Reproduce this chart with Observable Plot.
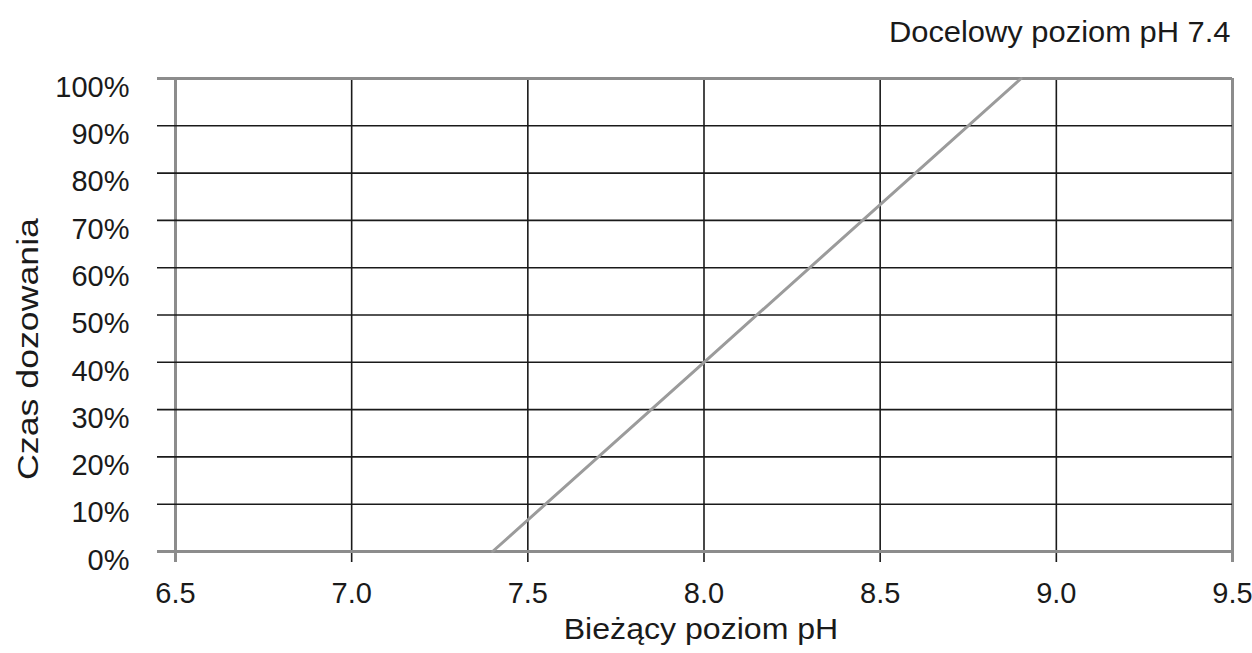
<!DOCTYPE html>
<html>
<head>
<meta charset="utf-8">
<script src="https://cdn.jsdelivr.net/npm/d3@7"></script>
<script src="https://cdn.jsdelivr.net/npm/@observablehq/plot@0.6"></script>
<style>
  html, body { margin: 0; padding: 0; background: #fff; }
</style>
</head>
<body>
<div id="chart"></div>
<script>
// Data
const xTicks = [6.5, 7.0, 7.5, 8.0, 8.5, 9.0, 9.5];
const yTicks = [0, 10, 20, 30, 40, 50, 60, 70, 80, 90, 100];
const phValues = [7.4, 8.0, 8.9];
const dosingValues = [0, 40, 100];
const titleText = "Docelowy poziom pH 7.4";
const xLabel = "Bieżący poziom pH";
const yLabel = "Czas dozowania";

const lineData = phValues.map((ph, i) => ({ph, dose: dosingValues[i]}));
const xEdge = [xTicks[0], xTicks[xTicks.length - 1]];
const yEdge = [yTicks[0], yTicks[yTicks.length - 1]];
const xInner = xTicks.filter(d => !xEdge.includes(d));
const yInner = yTicks.filter(d => !yEdge.includes(d));

const edgeColor = "#8c8c8c";
const gridColor = "#1a1a1a";
const textColor = "#1a1a1a";

const chart = Plot.plot({
  width: 1252,
  height: 653,
  marginLeft: 175,
  marginRight: 20,
  marginTop: 78,
  marginBottom: 102,
  style: {fontFamily: "'Liberation Sans', Arial, sans-serif", background: "#fff", color: textColor},
  x: {domain: xEdge, axis: null},
  y: {domain: yEdge, axis: null},
  marks: [
    Plot.ruleX(xInner, {x: d => d, stroke: gridColor, strokeWidth: 1.6, insetBottom: -11}),
    Plot.ruleX(xEdge, {x: d => d, stroke: edgeColor, strokeWidth: 3, insetBottom: -11}),
    Plot.ruleY(yInner, {y: d => d, stroke: gridColor, strokeWidth: 1.6, insetLeft: -18}),
    Plot.ruleY(yEdge, {y: d => d, stroke: edgeColor, strokeWidth: 3, insetLeft: -18}),
    Plot.line(lineData, {x: "ph", y: "dose", stroke: "#9b9b9b", strokeWidth: 3}),
    Plot.text(yTicks, {y: d => d, text: d => d + "%", frameAnchor: "left", textAnchor: "end", dx: -46, dy: 9, fontSize: 29, fill: textColor}),
    Plot.text(xTicks, {x: d => d, text: d => d.toFixed(1), frameAnchor: "bottom", lineAnchor: "top", dy: 31, fontSize: 29, fill: textColor}),
    Plot.text([xLabel], {text: d => d, frameAnchor: "bottom", textAnchor: "middle", lineAnchor: "bottom", dy: 87, dx: -3, fontSize: 30, fill: textColor}),
    Plot.text([yLabel], {text: d => d, frameAnchor: "left", textAnchor: "middle", lineAnchor: "bottom", rotate: -90, dx: -138, dy: 34, fontSize: 30, fill: textColor}),
    Plot.text([titleText], {text: d => d, frameAnchor: "top-right", textAnchor: "end", lineAnchor: "bottom", dy: -37, dx: -2, fontSize: 30, fill: textColor})
  ]
});

// stretch factors along the text direction for the text marks, in mark order
const stretchFactors = [1, 1, 1.07, 1.19, 1.03];
const textGroups = Array.from(chart.children).filter(g => g.tagName.toLowerCase() === "g" && g.querySelector("text"));
textGroups.forEach((g, i) => {
  const s = stretchFactors[i] ?? 1;
  if (s === 1) return;
  g.querySelectorAll("text").forEach(t => {
    const tr = t.getAttribute("transform") || "";
    t.setAttribute("transform", `${tr} scale(${s},1)`);
  });
});

document.getElementById("chart").appendChild(chart);
</script>
</body>
</html>
